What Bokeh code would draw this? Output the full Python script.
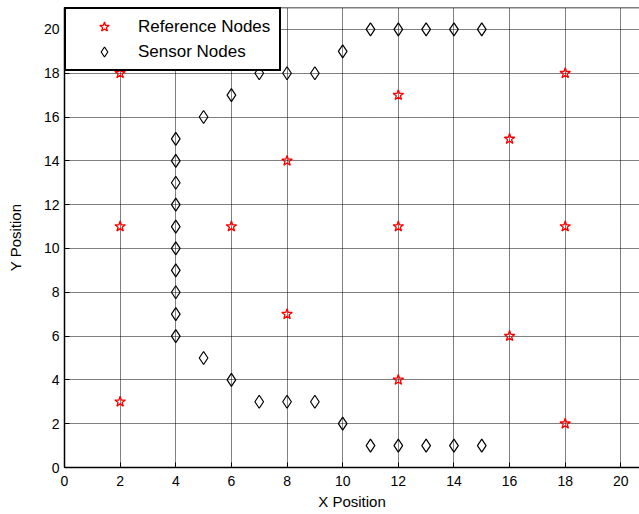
from bokeh.plotting import figure
from bokeh.models import Range1d, FixedTicker, Span
from bokeh.embed import file_html
from bokeh.resources import INLINE

# Reference nodes (red stars)
ref_x = [2, 2, 2, 6, 8, 8, 12, 12, 12, 16, 16, 18, 18, 18]
ref_y = [18, 11, 3, 11, 14, 7, 17, 11, 4, 15, 6, 18, 11, 2]

# Sensor nodes (black diamonds)
sensor_x = [4, 4, 4, 4, 4, 4, 4, 4, 4, 4,
            5, 6, 7, 8, 9, 10, 11, 12, 13, 14, 15,
            5, 6, 7, 8, 9, 10, 11, 12, 13, 14, 15]
sensor_y = [6, 7, 8, 9, 10, 11, 12, 13, 14, 15,
            16, 17, 18, 18, 18, 19, 20, 20, 20, 20, 20,
            5, 4, 3, 3, 3, 2, 1, 1, 1, 1, 1]

x_ticks = [0, 2, 4, 6, 8, 10, 12, 14, 16, 18, 20]
y_ticks = [0, 2, 4, 6, 8, 10, 12, 14, 16, 18, 20]
y_max = 21

FONT = "Liberation Sans"

p = figure(width=639, height=514,
           x_range=Range1d(0, 20.67), y_range=Range1d(0, y_max),
           output_backend="svg", toolbar_location=None,
           min_border_left=64, min_border_right=0,
           min_border_top=7, min_border_bottom=47,
           background_fill_color="white", border_fill_color="white",
           outline_line_color=None)

p.xaxis.ticker = FixedTicker(ticks=x_ticks)
p.yaxis.ticker = FixedTicker(ticks=y_ticks)
p.xaxis.axis_label = "X Position"
p.yaxis.axis_label = "Y Position"

for ax in (p.xaxis[0], p.yaxis[0]):
    ax.major_tick_in = 5
    ax.major_tick_out = 0
    ax.minor_tick_line_color = None
    ax.axis_line_width = 1.5
    ax.axis_line_color = "black"
    ax.major_tick_line_color = "black"
    ax.major_label_text_font = FONT
    ax.major_label_text_font_size = "14px"
    ax.major_label_text_color = "black"
    ax.axis_label_text_font = FONT
    ax.axis_label_text_font_size = "15px"
    ax.axis_label_text_font_style = "normal"
    ax.axis_label_text_color = "black"

p.xaxis.major_label_standoff = 8
p.xaxis.axis_label_standoff = 4
p.yaxis.major_label_standoff = 5
p.yaxis.axis_label_standoff = 17

# top border of the box
p.add_layout(Span(location=y_max, dimension="width",
                  line_color="black", line_width=1.5))

for g in (p.xgrid[0], p.ygrid[0]):
    g.grid_line_color = "black"
    g.grid_line_alpha = 1.0
    g.grid_line_dash = "1 1"
    g.grid_line_width = 1

p.scatter(ref_x, ref_y, marker="star", size=11, fill_color=None,
          line_color="red", line_width=1.3, legend_label="Reference Nodes")
p.scatter(sensor_x, sensor_y, marker="diamond", size=13, fill_color=None,
          line_color="black", line_width=1.2, legend_label="Sensor Nodes")

lg = p.legend[0]
lg.location = "top_left"
lg.margin = 0
lg.padding = 5
lg.spacing = 0
lg.glyph_width = 66
lg.glyph_height = 25
lg.label_standoff = 1
lg.label_width = 136
lg.label_text_font = FONT
lg.label_text_font_size = "17px"
lg.label_text_color = "black"
lg.border_line_color = "black"
lg.border_line_width = 2
lg.border_line_alpha = 1.0
lg.background_fill_color = "white"
lg.background_fill_alpha = 1.0

open("out.html", "w").write(file_html(p, INLINE))
